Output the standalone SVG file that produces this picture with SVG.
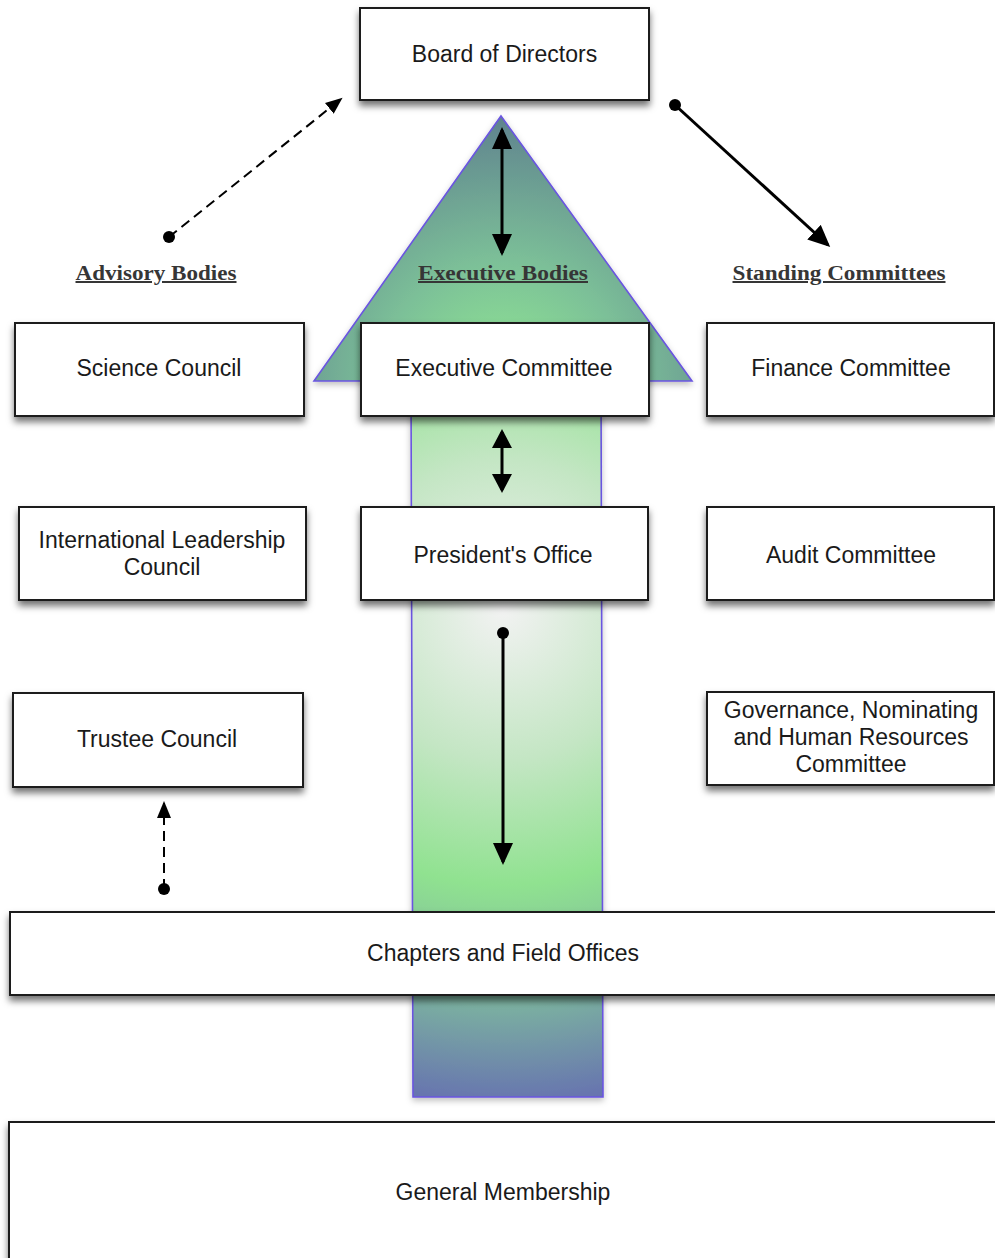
<svg xmlns="http://www.w3.org/2000/svg" width="995" height="1258" viewBox="0 0 995 1258">
<style>
.box{fill:#fff;stroke:#1e1e1e;stroke-width:2;filter:url(#sh)}
.t{font-family:"Liberation Sans",Arial,sans-serif;font-size:23px;fill:#1a1a1a;text-anchor:middle}
.h{font-family:"Liberation Serif","Times New Roman",serif;font-size:20px;font-weight:bold;fill:#363636;text-anchor:middle;text-decoration:underline}
.solid{fill:none;stroke:#000;stroke-width:3}
.dash{fill:none;stroke:#000;stroke-width:2;stroke-dasharray:10 6}
.arrowshape{stroke:#6a55e0;stroke-width:1.6;filter:url(#sh2)}
</style>
<defs>
<filter id="sh" x="-10%" y="-20%" width="120%" height="150%">
<feDropShadow dx="0" dy="5" stdDeviation="3.5" flood-color="#000" flood-opacity="0.55"/>
</filter>
<filter id="sh2" x="-10%" y="-10%" width="120%" height="120%">
<feDropShadow dx="0" dy="3" stdDeviation="3" flood-color="#000" flood-opacity="0.25"/>
</filter>
<radialGradient id="gTri" gradientUnits="userSpaceOnUse" cx="503" cy="385" r="275">
<stop offset="0" stop-color="#92ea92"/>
<stop offset="0.45" stop-color="#7cc098"/>
<stop offset="1" stop-color="#5e808e"/>
</radialGradient>
<radialGradient id="gShaft" gradientUnits="userSpaceOnUse" cx="503" cy="610" r="500">
<stop offset="0" stop-color="#f2f2f2"/>
<stop offset="0.3" stop-color="#c4e6c4"/>
<stop offset="0.55" stop-color="#90e290"/>
<stop offset="0.78" stop-color="#7cb3a0"/>
<stop offset="1" stop-color="#6670b0"/>
</radialGradient>
<marker id="ah" markerUnits="userSpaceOnUse" markerWidth="24" markerHeight="22" refX="19" refY="10" orient="auto-start-reverse">
<path d="M0,0 L22,10 L0,20 z" fill="#000"/>
</marker>
<marker id="ahm" markerUnits="userSpaceOnUse" markerWidth="22" markerHeight="22" refX="16" refY="10" orient="auto-start-reverse">
<path d="M0,0 L19,10 L0,20 z" fill="#000"/>
</marker>
<marker id="ahs" markerUnits="userSpaceOnUse" markerWidth="20" markerHeight="16" refX="15" refY="7" orient="auto-start-reverse">
<path d="M0,0 L17,7 L0,14 z" fill="#000"/>
</marker>
<marker id="dot" markerUnits="userSpaceOnUse" markerWidth="14" markerHeight="14" refX="7" refY="7">
<circle cx="7" cy="7" r="6" fill="#000"/>
</marker>
</defs>
<rect width="995" height="1258" fill="#fff"/>
<g id="exec-arrow">
<path class="arrowshape" fill="url(#gShaft)" d="M411,381 L601,381 L603,1097 L413,1097 Z"/>
<path class="arrowshape" fill="url(#gTri)" d="M501,116 L692,381 L314,381 Z"/>
</g>
<g id="board"><rect class="box" x="360" y="8" width="289" height="92"/><text class="t" x="504.5" y="62">Board of Directors</text></g>
<g id="hdr-advisory"><text class="h" x="156" y="280" textLength="161" lengthAdjust="spacingAndGlyphs">Advisory Bodies</text></g>
<g id="hdr-exec"><text class="h" x="503" y="280" textLength="170" lengthAdjust="spacingAndGlyphs">Executive Bodies</text></g>
<g id="hdr-standing"><text class="h" x="839" y="280" textLength="213" lengthAdjust="spacingAndGlyphs">Standing Committees</text></g>
<g id="science"><rect class="box" x="15" y="323" width="289" height="93"/><text class="t" x="159" y="376">Science Council</text></g>
<g id="executive"><rect class="box" x="361" y="323" width="288" height="93"/><text class="t" x="504" y="376">Executive Committee</text></g>
<g id="finance"><rect class="box" x="707" y="323" width="287" height="93"/><text class="t" x="851" y="376">Finance Committee</text></g>
<g id="ilc"><rect class="box" x="19" y="507" width="287" height="93"/><text class="t" x="162" y="548">International Leadership</text><text class="t" x="162" y="575">Council</text></g>
<g id="president"><rect class="box" x="361" y="507" width="287" height="93"/><text class="t" x="503" y="563">President's Office</text></g>
<g id="audit"><rect class="box" x="707" y="507" width="287" height="93"/><text class="t" x="851" y="563">Audit Committee</text></g>
<g id="trustee"><rect class="box" x="13" y="693" width="290" height="94"/><text class="t" x="157" y="747">Trustee Council</text></g>
<g id="governance"><rect class="box" x="707" y="692" width="287" height="93"/><text class="t" x="851" y="718">Governance, Nominating</text><text class="t" x="851" y="745">and Human Resources</text><text class="t" x="851" y="772">Committee</text></g>
<g id="chapters"><rect class="box" x="10" y="912" width="1000" height="83"/><text class="t" x="503" y="961">Chapters and Field Offices</text></g>
<g id="membership"><rect class="box" x="9" y="1122" width="1000" height="160"/><text class="t" x="503" y="1200">General Membership</text></g>
<g id="connectors">
<path class="dash" d="M169,237 L341,99" marker-start="url(#dot)" marker-end="url(#ahs)"/>
<path class="solid" d="M675,105 L828,245" marker-start="url(#dot)" marker-end="url(#ah)"/>
<path class="solid" d="M502,130 L502,253" marker-start="url(#ah)" marker-end="url(#ah)"/>
<path class="solid" d="M502,432 L502,490" marker-start="url(#ahm)" marker-end="url(#ahm)"/>
<path class="solid" d="M503,633 L503,862" marker-start="url(#dot)" marker-end="url(#ah)"/>
<path class="dash" d="M164,889 L164,803" marker-start="url(#dot)" marker-end="url(#ahs)"/>
</g>
</svg>
